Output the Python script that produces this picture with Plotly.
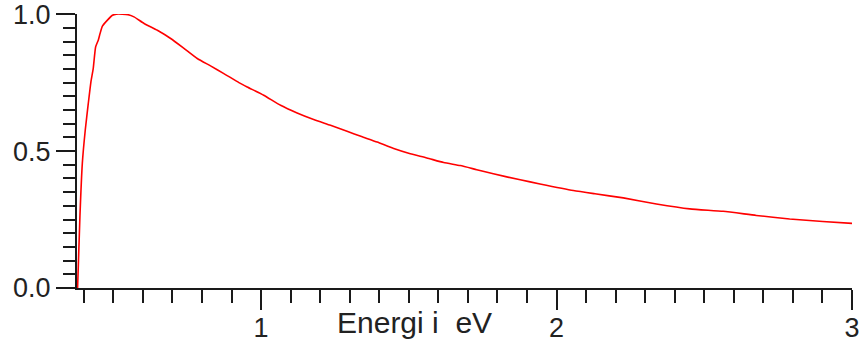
import plotly.graph_objects as go

energy = [0.379, 0.387, 0.395, 0.405, 0.415, 0.424, 0.432, 0.440, 0.449, 0.455,
          0.463, 0.480, 0.497, 0.510, 0.530, 0.550, 0.570, 0.604, 0.649, 0.694,
          0.739, 0.784, 0.829, 0.874, 0.925, 0.953, 1.009, 1.066, 1.122, 1.178,
          1.235, 1.291, 1.340, 1.393, 1.449, 1.505, 1.561, 1.618, 1.674, 1.730,
          1.786, 1.877, 1.944, 2.057, 2.130, 2.226, 2.338, 2.451, 2.564, 2.676,
          2.789, 2.901, 3.000]
intensity = [0.000, 0.264, 0.455, 0.577, 0.672, 0.752, 0.802, 0.880, 0.905, 0.929,
             0.956, 0.978, 0.996, 1.000, 1.000, 0.998, 0.990, 0.966, 0.941, 0.911,
             0.875, 0.838, 0.811, 0.783, 0.750, 0.734, 0.704, 0.667, 0.639, 0.615,
             0.594, 0.572, 0.553, 0.533, 0.509, 0.490, 0.475, 0.458, 0.447, 0.432,
             0.417, 0.395, 0.380, 0.356, 0.344, 0.329, 0.307, 0.289, 0.280, 0.265,
             0.252, 0.243, 0.236]

x_tickvals = [1, 2, 3]
x_ticktext = ["1", "2", "3"]
y_tickvals = [0.0, 0.5, 1.0]
y_ticktext = ["0.0", "0.5", "1.0"]
x_title = "Energi i  eV"

axis_color = "#1a1a1a"
font_family = "Liberation Sans, Arial, sans-serif"

fig = go.Figure()
fig.add_trace(go.Scatter(x=energy, y=intensity, mode="lines",
                         line=dict(color="#ff0000", width=1.6, shape="spline", smoothing=0.5),
                         showlegend=False, hoverinfo="skip"))

fig.update_layout(
    width=863, height=348, autosize=False,
    margin=dict(l=77, r=11, t=14, b=60),
    paper_bgcolor="white", plot_bgcolor="white",
    font=dict(family=font_family, size=27, color="#222"),
)
fig.update_xaxes(
    range=[0.377, 3.0], showgrid=False, zeroline=False, automargin=False,
    showline=True, linecolor=axis_color, linewidth=2,
    tickmode="array", tickvals=x_tickvals, ticktext=x_ticktext,
    ticks="outside", ticklen=20, tickwidth=2, tickcolor=axis_color,
    ticklabelstandoff=-5, ticklabeloverflow="allow",
    minor=dict(dtick=0.1, tick0=0, ticks="outside", ticklen=13,
               tickwidth=2, tickcolor=axis_color, showgrid=False),
    tickfont=dict(size=27, color="#222"),
)
fig.update_yaxes(
    range=[0, 1.0005], showgrid=False, zeroline=False, automargin=False,
    showline=True, linecolor=axis_color, linewidth=2,
    tickmode="array", tickvals=y_tickvals, ticktext=y_ticktext,
    ticks="outside", ticklen=19, tickwidth=2, tickcolor=axis_color,
    ticklabeloverflow="allow",
    minor=dict(dtick=0.05, tick0=0, ticks="outside", ticklen=12,
               tickwidth=2, tickcolor=axis_color, showgrid=False),
    tickfont=dict(size=27, color="#222"),
)
fig.add_annotation(text=x_title, xref="paper", yref="paper",
                   x=0.435, y=-0.125, xanchor="center", yanchor="middle",
                   showarrow=False, font=dict(size=30, color="#222"))

fig.write_html("out.html")
